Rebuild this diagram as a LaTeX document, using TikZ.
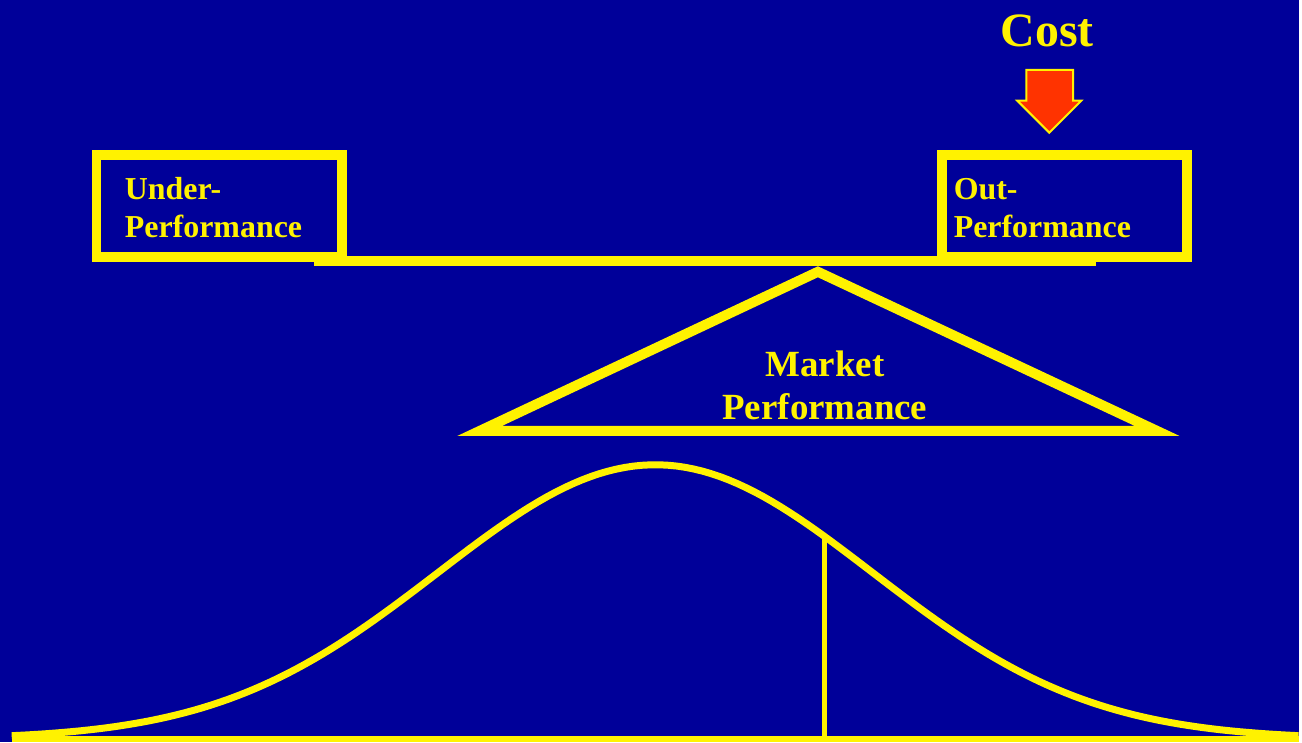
\documentclass[tikz,border=0pt]{standalone}
\usepackage{fontspec}
\setmainfont{Liberation Serif}
\definecolor{slideblue}{RGB}{0,0,153}
\definecolor{costred}{RGB}{255,51,0}
\tikzset{
  perfbox/.style={draw=yellow, line width=10pt, minimum width=246pt, minimum height=102pt, inner sep=0pt},
  perflabel/.style={text=yellow, font=\fontsize{32}{38}\selectfont\bfseries, align=left, inner sep=0pt},
  beam/.style={draw=yellow, line width=10pt},
}
\begin{document}
\begin{tikzpicture}[x=1pt, y=-1pt, line join=miter]
	% background of the slide
	\fill[slideblue] (0,0) rectangle (1302,744);
	
	% COST: arrow pressing on the right pan
	\node[text=yellow, font=\fontsize{48}{56}\selectfont\bfseries, anchor=base, inner sep=0pt] (cost) at (1050,47) {Cost};
	\draw[fill=costred, draw=yellow, line width=2pt] (1029,70) -- (1076,70) -- (1076,101) -- (1084,101)
		-- (1052,133) -- (1020,101) -- (1029,101) -- cycle;
	
	% the two pans
	\node[perfbox] (under) at (219.75,206.25) {};
	\node[perfbox] (out) at (1067.5,206.5) {};
	\node[perflabel, anchor=base west] (undertxt) at (125,238) {Under-\\Performance};
	\node[perflabel, anchor=base west] (outtxt) at (956,238) {Out-\\Performance};
	
	% beam of the scale
	\coordinate (beamL) at (315,262);
	\coordinate (beamR) at (1099,262);
	\draw[beam] (beamL) -- (beamR);
	
	% fulcrum
	\coordinate (pivot) at (820,272.5);
	\coordinate (baseL) at (481,432);
	\coordinate (baseR) at (1160,432);
	\draw[beam, miter limit=20] (pivot) -- (baseR) -- (baseL) -- cycle;
	\node[text=yellow, font=\fontsize{37}{44}\selectfont\bfseries, align=center, anchor=base, inner sep=0pt] (market) at (827,421) {Market\\Performance};
	
	% BOTTOM: distribution of performance (mean 657, sd 218)
	\coordinate (axisL) at (12,741);
	\coordinate (axisR) at (1302,741);
	\draw[yellow, line width=6pt] (axisL) -- (axisR);
	\draw[yellow, line width=7pt, line join=round, samples=150, domain=-2.96:2.96]
		plot ({657+218*\x}, {741-275*exp(-\x*\x/2)});
	\coordinate (cut) at (827, {741-275*exp(-0.78*0.78/2)});
	\coordinate (cutfoot) at (827,741);
	\draw[yellow, line width=5pt] (cut) -- (cutfoot);
\end{tikzpicture}
\end{document}
